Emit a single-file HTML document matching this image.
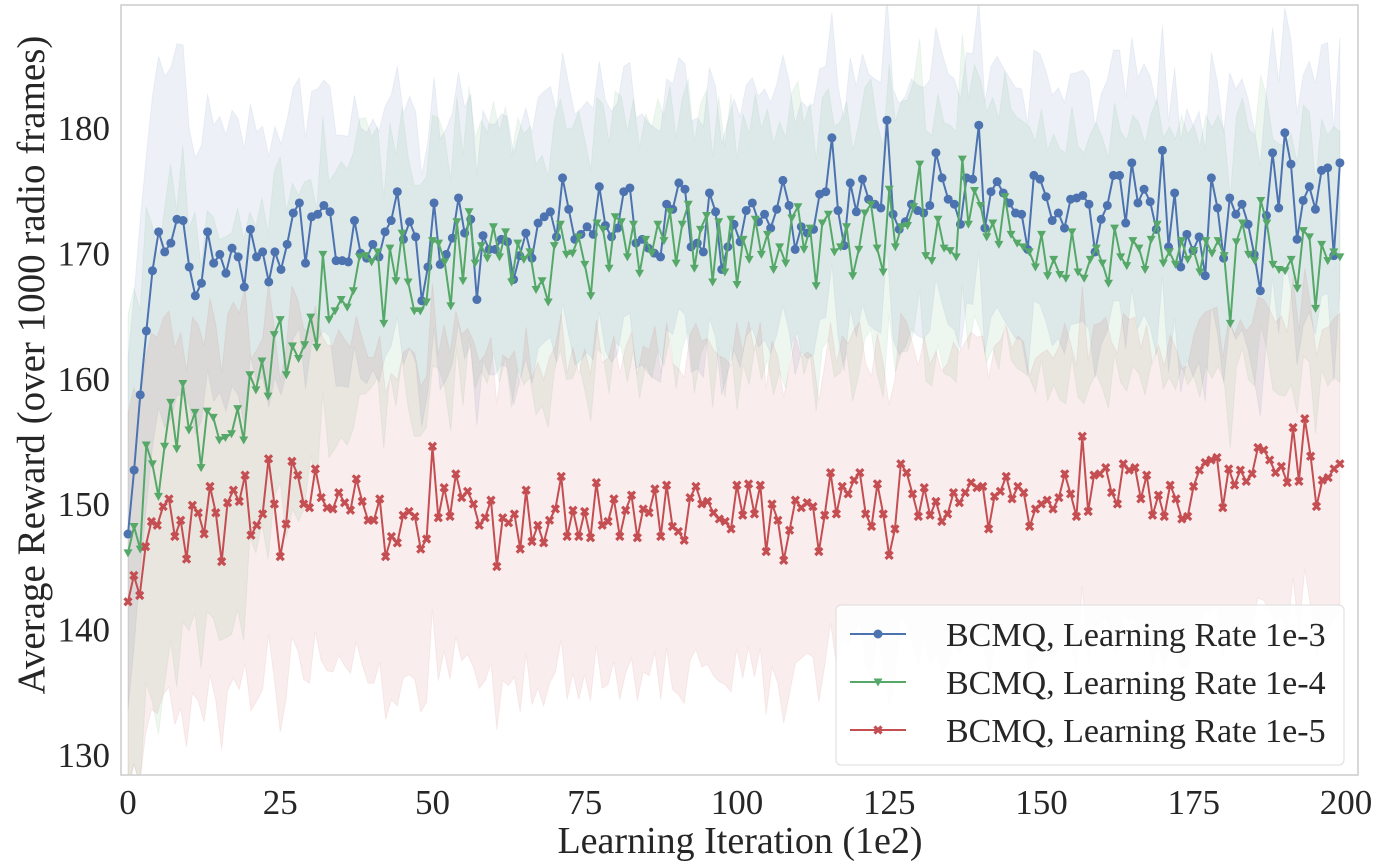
<!DOCTYPE html>
<html><head><meta charset="utf-8"><style>
html,body{margin:0;padding:0;background:#fff;}
svg{display:block;font-family:"Liberation Serif","Times New Roman",serif;}
</style></head><body>
<svg id="chart" width="1392" height="866"></svg>
<script>
const blueVals=[147.7,152.8,158.8,163.9,168.7,171.8,170.2,170.9,172.8,172.7,169,166.7,167.7,171.8,169.3,170,168.5,170.5,169.8,167.4,172,169.8,170.2,167.8,170.2,168.8,170.8,173.3,174.1,169.3,173,173.2,173.9,173.4,169.5,169.5,169.4,172.7,170.1,169.7,170.8,169.8,171.8,172.7,175,171.2,172.6,171.4,166.3,169,174.1,169.2,170,171.3,174.5,171.7,172.8,166.4,171.5,170.4,170.4,171.2,171,168,169.9,171.7,169.7,172.5,173,173.4,171.4,176.1,173.6,171.2,171.6,172.2,171.6,175.4,172.3,171.4,172.1,175,175.3,170.9,171.2,170.5,170.1,169.8,174,173.6,175.7,175.2,170.6,170.9,170.2,174.9,173.4,168.8,170.6,172.4,171,173.5,174.1,172.6,173.2,172.1,173.6,175.9,173.9,170.4,172.2,171.7,172,174.8,175,179.3,173.5,170.7,175.7,173.4,176,174.4,174,173.7,180.7,173.2,172,172.6,174,173.5,173.3,173.9,178.1,176.1,174.4,174,172.4,176.1,176,180.3,172.1,175,175.8,174.9,174.1,173.3,173.2,170.4,176.3,176,174.6,172.7,173.3,172.1,174.4,174.5,174.7,174,170.2,172.8,173.9,176.3,176.3,172.5,177.3,174.1,175.2,174.2,172,178.3,170.6,174.9,169,171.6,170.3,171.4,168.3,176.1,173.7,169.7,174.5,173.2,174,172.4,170,167.1,173.1,178.1,173.7,179.7,177.2,171.2,174.3,175.4,173.6,176.7,176.9,169.9,177.3];
const greenVals=[146.2,148.3,146.5,154.8,153.3,150.7,154.7,158.2,154.5,159.7,156,157.4,153,157.5,157,155.2,155.4,155.7,157.7,155.2,160.4,159.2,161.5,158.7,163.6,164.8,160.4,162.7,161.7,162.8,165,162.6,170,164.8,165.5,166.4,165.8,167.1,169.8,169.9,169.4,170.2,164.5,170.5,167.9,171.7,167.8,165.5,165.5,166.2,171.1,170.9,169.4,165.9,172.6,167.9,173.4,169.3,170.7,169.7,172.2,169.8,171.8,167.8,170.9,169.6,170.2,167.2,167.9,166.2,170.7,172.4,170,170.1,171.4,169.2,166.7,172.5,172,168.9,173,172.6,169.8,172.4,168.5,171.2,170.1,172.4,171.1,173.4,169.3,172.4,174,168.9,172,173.1,167.8,172.6,168.6,172.8,167.6,171.2,169.6,172.8,170,171.6,168.8,170.6,169.3,172.9,173.8,170.4,172.1,167.5,172.5,173.2,170.2,170.6,172.2,168.3,170.4,173.3,174,170.5,168.6,175.2,170.6,172.2,172.3,173.8,177.2,169.9,169.5,172.8,170.5,170.3,169.8,177.6,172.4,175.1,173.9,171.4,172.5,170.8,174.6,171.6,170.9,170.6,170.2,169,171.6,168.3,169.6,168.4,168.1,171.8,168.6,168.1,169.6,170.5,169.3,167.7,172.1,169.8,169.1,171.1,170.5,168.8,171.2,172.4,169.3,170.2,169.2,171.1,169.6,170.3,168.6,171.1,170.1,171.1,169.9,164.5,171,172.5,170,169.5,174.3,172.5,169.2,168.8,168.7,169.6,167.3,171.9,171.4,165.7,170.8,169.5,170.2,169.8];
const redVals=[142.3,144.4,142.8,146.7,148.7,148.4,149.9,150.5,147.5,148.8,145.7,150,149.4,147.7,151.5,149.4,145.5,150.2,151.2,150.3,152.4,147.6,148.4,149.3,153.7,150.1,145.9,148.5,153.5,152.4,150.1,149.8,152.9,150.6,149.8,149.7,151,150.2,149.6,152.1,150.3,148.8,148.8,150.5,145.9,147.5,147,149.2,149.5,149.1,146.5,147.3,154.7,149,151.4,149.1,152.5,150.6,151.1,150.1,148.4,149,150.4,145.1,149,148.6,149.3,146.5,151.2,147.1,148.4,147,148.8,149.7,152.3,147.5,149.6,147.5,149.5,147.4,151.8,148.4,148.7,150.5,147.5,149.6,150.8,147.4,149.7,149.4,151.3,147.5,151.6,148.3,147.9,147.2,150.6,151.5,150.1,150.3,149.4,148.9,148.7,148.1,151.6,149.2,151.7,149.3,151.6,146.3,150.1,148.8,145.6,148,150.4,149.8,150.2,149.9,146.3,149.2,152.6,149.3,151.5,150.9,152,152.6,149.3,148.3,151.7,149.3,146,148.1,153.3,152.6,150.9,149.1,151.4,149.2,150.3,148.7,149.3,151,150.2,151,151.8,151.4,151.5,148.1,150.7,151.1,152.3,150.5,151.5,151,148.3,149.7,150.1,150.4,149.7,150.6,152.5,150.9,149.1,155.5,149.5,152.4,152.5,153,151,150.1,153.3,152.8,153,150.5,152.4,149.2,150.8,149.1,151.6,150.5,148.9,149.1,151.5,152.8,153.4,153.6,153.8,149.8,152.9,151.6,152.8,151.9,152.5,154.6,154.4,153.6,152.6,153.1,151.8,156.2,151.9,156.9,153.9,149.9,152,152.2,152.9,153.3];
// band half-widths per 10-iteration bucket
const blueSpread=[14,11,10,10,10,10,10,10,10,10,10,10,10,10,10,10,10,10,10,10];
const greenSpread=[19,16,13,11,10,10,10,10,10,10,10,10,10,10,10,10,10,10,10,10];
const redSpread=[15,15,14,13,13,13,13,13,13,13,13,12,12,12,12,12,12,12,12,12];
const xTicks=[0,25,50,75,100,125,150,175,200];
const yTicks=[130,140,150,160,170,180];
const legendLabels=["BCMQ, Learning Rate 1e-3","BCMQ, Learning Rate 1e-4","BCMQ, Learning Rate 1e-5"];

const NS="http://www.w3.org/2000/svg";
const svg=document.getElementById('chart');
const L=121,R=1358,T=5,B=775;
const xs=v=>128+v*6.09;
const ys=v=>129+(180-v)*12.54;
function mk(tag,attrs,parent){const e=document.createElementNS(NS,tag);for(const k in attrs)e.setAttribute(k,attrs[k]);(parent||svg).appendChild(e);return e;}

const defs=mk('defs',{});
const cp=mk('clipPath',{id:'clip'},defs);
mk('rect',{x:L,y:T,width:R-L,height:B-T},cp);

const series=[
 {vals:blueVals,spread:blueSpread,color:'#4c72b0',name:'blue',marker:'circle'},
 {vals:greenVals,spread:greenSpread,color:'#55a868',name:'green',marker:'tri'},
 {vals:redVals,spread:redSpread,color:'#c44e52',name:'red',marker:'x'}];
const g=mk('g',{'clip-path':'url(#clip)'});
series.forEach(s=>{
  const n=s.vals.length;const step=199/(n-1);
  let up=[],lo=[];
  s.vals.forEach((v,i)=>{const sp=s.spread[Math.min(19,Math.floor(i*step/10))];up.push(xs(i*step)+','+ys(v+sp));lo.unshift(xs(i*step)+','+ys(v-sp));});
  const band=mk('polygon',{points:up.concat(lo).join(' '),fill:s.color,'fill-opacity':0.1,stroke:s.color,'stroke-opacity':0.08},g);
  
  
});
series.forEach(s=>{
  const n=s.vals.length;const step=199/(n-1);
  const pts=s.vals.map((v,i)=>xs(i*step)+','+ys(v)).join(' ');
  const line=mk('polyline',{points:pts,fill:'none',stroke:s.color,'stroke-width':2},g);
  
  
  s.vals.forEach((v,i)=>{const x=xs(i*step),y=ys(v);drawMarker(s,x,y,g);});
});
function drawMarker(s,x,y,p){
  let m;
  if(s.marker==='circle')m=mk('circle',{cx:x,cy:y,r:4.5,fill:s.color},p);
  else if(s.marker==='tri')m=mk('polygon',{points:`${x-4.5},${y-3.5} ${x+4.5},${y-3.5} ${x},${y+4.5}`,fill:s.color},p);
  else m=mk('path',{d:`M${x-3.5},${y-3.5}L${x+3.5},${y+3.5}M${x+3.5},${y-3.5}L${x-3.5},${y+3.5}`,stroke:s.color,'stroke-width':3.2},p);
  
  
}
const frame=mk('rect',{x:L,y:T,width:R-L,height:B-T,fill:'none',stroke:'#ccc','stroke-width':1.5});


xTicks.forEach(t=>{const e=mk('text',{x:xs(t),y:814,'text-anchor':'middle','font-size':35,fill:'#262626'});e.textContent=t;
 
 });
yTicks.forEach(t=>{const e=mk('text',{x:110,y:ys(t)+11,'text-anchor':'end','font-size':35,fill:'#262626'});e.textContent=t;
 
 });
const xt=mk('text',{x:740,y:853,'text-anchor':'middle','font-size':38,fill:'#262626'});xt.textContent='Learning Iteration (1e2)';


const yt=mk('text',{x:0,y:0,'text-anchor':'middle','font-size':39,fill:'#262626',transform:'translate(44,365) rotate(-90)'});yt.textContent='Average Reward (over 1000 radio frames)';


const lg=mk('g',{});


mk('rect',{x:836,y:605,width:508,height:160,rx:5,fill:'#fff','fill-opacity':0.85,stroke:'#ddd'},lg);
series.forEach((s,i)=>{const y=634+i*48;
  const ln=mk('line',{x1:850,x2:906,y1:y,y2:y,stroke:s.color,'stroke-width':2},lg);
  
  
  drawMarker(s,878,y,lg);
  const t=mk('text',{x:946,y:y+12,'font-size':34,fill:'#262626'},lg);t.textContent=legendLabels[i];
  
  
});
</script>
</body></html>
